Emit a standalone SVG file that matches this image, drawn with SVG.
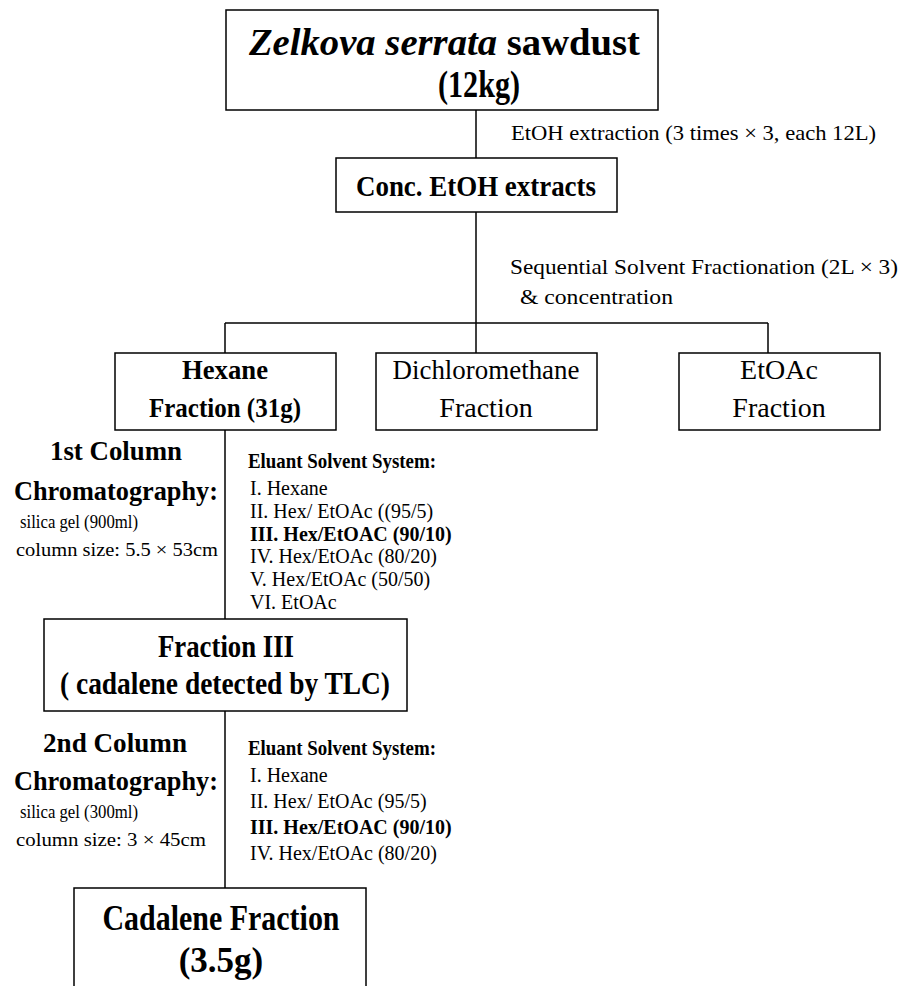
<svg xmlns="http://www.w3.org/2000/svg" width="904" height="986" viewBox="0 0 904 986">
<style>
.box{fill:#fff;stroke:#000;stroke-width:1.5}
.ln{stroke:#000;stroke-width:1.5;fill:none}
text{font-family:"Liberation Serif","Times New Roman",serif;fill:#000}
.b{font-weight:bold}
.c{text-anchor:middle}
</style>
<rect width="904" height="986" fill="#fff"/>
<g id="connectors">
<line class="ln" x1="476" y1="110" x2="476" y2="158"/>
<line class="ln" x1="476" y1="212" x2="476" y2="353"/>
<line class="ln" x1="225" y1="323" x2="768" y2="323"/>
<line class="ln" x1="225" y1="323" x2="225" y2="353"/>
<line class="ln" x1="768" y1="323" x2="768" y2="353"/>
<line class="ln" x1="225" y1="430" x2="225" y2="619"/>
<line class="ln" x1="225" y1="711" x2="225" y2="888"/>
</g>
<g id="n-sawdust">
<rect class="box" x="226" y="10" width="432" height="100"/>
<text class="b" x="249" y="55" font-size="37" textLength="391" lengthAdjust="spacingAndGlyphs"><tspan font-style="italic">Zelkova serrata</tspan> sawdust</text>
<text class="b" x="438" y="97" font-size="37" textLength="82" lengthAdjust="spacingAndGlyphs">(12kg)</text>
</g>
<text x="511" y="140" font-size="21" textLength="365" lengthAdjust="spacingAndGlyphs">EtOH extraction (3 times × 3, each 12L)</text>
<g id="n-conc">
<rect class="box" x="336" y="158" width="281" height="54"/>
<text class="b" x="356" y="196" font-size="29" textLength="240" lengthAdjust="spacingAndGlyphs">Conc. EtOH extracts</text>
</g>
<text x="510" y="274" font-size="22" textLength="388" lengthAdjust="spacingAndGlyphs">Sequential Solvent Fractionation (2L × 3)</text>
<text x="520" y="304" font-size="22" textLength="153" lengthAdjust="spacingAndGlyphs">&amp; concentration</text>
<g id="n-hexane">
<rect class="box" x="115" y="353" width="221" height="77"/>
<text class="b c" x="225" y="379" font-size="28" textLength="86" lengthAdjust="spacingAndGlyphs">Hexane</text>
<text class="b c" x="225" y="417" font-size="28" textLength="152" lengthAdjust="spacingAndGlyphs">Fraction (31g)</text>
</g>
<g id="n-dcm">
<rect class="box" x="376" y="353" width="221" height="77"/>
<text class="c" x="486" y="379" font-size="28" textLength="187" lengthAdjust="spacingAndGlyphs">Dichloromethane</text>
<text class="c" x="486" y="417" font-size="28">Fraction</text>
</g>
<g id="n-etoac">
<rect class="box" x="679" y="353" width="201" height="77"/>
<text class="c" x="779" y="379" font-size="28">EtOAc</text>
<text class="c" x="779" y="417" font-size="28">Fraction</text>
</g>
<g id="col1">
<text class="b c" x="116" y="460" font-size="28" textLength="132" lengthAdjust="spacingAndGlyphs">1st Column</text>
<text class="b" x="14" y="500" font-size="28" textLength="204" lengthAdjust="spacingAndGlyphs">Chromatography:</text>
<text x="20" y="528" font-size="19" textLength="118" lengthAdjust="spacingAndGlyphs">silica gel (900ml)</text>
<text x="16" y="556" font-size="19" textLength="202" lengthAdjust="spacingAndGlyphs">column size: 5.5 × 53cm</text>
</g>
<g id="eluant1" font-size="20">
<text class="b" x="248" y="468" font-size="21" textLength="188" lengthAdjust="spacingAndGlyphs">Eluant Solvent System:</text>
<text x="250" y="495">I. Hexane</text>
<text x="250" y="518">II. Hex/ EtOAc ((95/5)</text>
<text class="b" x="250" y="541">III. Hex/EtOAC (90/10)</text>
<text x="250" y="563">IV. Hex/EtOAc (80/20)</text>
<text x="250" y="586">V. Hex/EtOAc (50/50)</text>
<text x="250" y="609">VI. EtOAc</text>
</g>
<g id="n-fraction3">
<rect class="box" x="44" y="619" width="363" height="92"/>
<text class="b c" x="226" y="657" font-size="31" textLength="136" lengthAdjust="spacingAndGlyphs">Fraction III</text>
<text class="b c" x="225" y="694" font-size="31" textLength="330" lengthAdjust="spacingAndGlyphs">( cadalene  detected by TLC)</text>
</g>
<g id="col2">
<text class="b c" x="115" y="752" font-size="28" textLength="144" lengthAdjust="spacingAndGlyphs">2nd Column</text>
<text class="b" x="14" y="790" font-size="28" textLength="204" lengthAdjust="spacingAndGlyphs">Chromatography:</text>
<text x="20" y="818" font-size="19" textLength="118" lengthAdjust="spacingAndGlyphs">silica gel (300ml)</text>
<text x="16" y="846" font-size="19" textLength="190" lengthAdjust="spacingAndGlyphs">column size: 3 × 45cm</text>
</g>
<g id="eluant2" font-size="20">
<text class="b" x="248" y="755" font-size="21" textLength="188" lengthAdjust="spacingAndGlyphs">Eluant Solvent System:</text>
<text x="250" y="782">I. Hexane</text>
<text x="250" y="808">II. Hex/ EtOAc (95/5)</text>
<text class="b" x="250" y="834">III. Hex/EtOAC (90/10)</text>
<text x="250" y="860">IV. Hex/EtOAc (80/20)</text>
</g>
<g id="n-cadalene">
<rect class="box" x="74" y="888" width="292" height="110"/>
<text class="b c" x="221" y="930" font-size="35" textLength="237" lengthAdjust="spacingAndGlyphs">Cadalene Fraction</text>
<text class="b c" x="221" y="972" font-size="35">(3.5g)</text>
</g>
</svg>
